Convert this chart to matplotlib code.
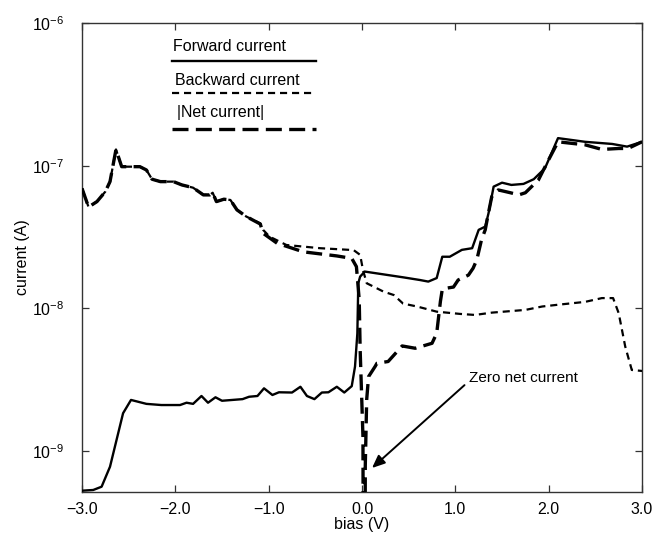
import math
import matplotlib
matplotlib.use("Agg")
import matplotlib.pyplot as plt
from matplotlib.ticker import FixedLocator, FuncFormatter, NullLocator

plt.rcParams['font.family'] = ['Liberation Sans', 'DejaVu Sans']
plt.rcParams['mathtext.fontset'] = 'custom'
plt.rcParams['mathtext.rm'] = 'Liberation Sans'
plt.rcParams['mathtext.it'] = 'Liberation Sans:italic'
plt.rcParams['mathtext.default'] = 'regular'

# ---------------- data ----------------
fwd_v = [-3.00, -2.88, -2.79, -2.70, -2.56, -2.475, -2.31, -2.15, -1.95, -1.88,
         -1.81, -1.72, -1.65, -1.57, -1.50, -1.28, -1.21, -1.12, -1.05, -0.96,
         -0.89, -0.75, -0.66, -0.59, -0.51, -0.43, -0.36, -0.27, -0.19, -0.11,
         -0.075, -0.05, -0.04, -0.02, 0.03, 0.44, 0.62, 0.71, 0.80, 0.86,
         0.94, 1.07, 1.18, 1.25, 1.32, 1.355, 1.41, 1.50, 1.60, 1.73,
         1.84, 1.96, 2.10, 2.39, 2.68, 2.84, 3.00]
fwd_i = [5.27e-10, 5.33e-10, 5.62e-10, 7.76e-10, 1.84e-9, 2.28e-9, 2.14e-9, 2.10e-9, 2.10e-9, 2.18e-9,
         2.14e-9, 2.43e-9, 2.18e-9, 2.38e-9, 2.25e-9, 2.31e-9, 2.40e-9, 2.43e-9, 2.75e-9, 2.47e-9,
         2.58e-9, 2.57e-9, 2.82e-9, 2.43e-9, 2.31e-9, 2.57e-9, 2.58e-9, 2.82e-9, 2.57e-9, 2.85e-9,
         3.91e-9, 6.68e-9, 1.50e-8, 1.67e-8, 1.81e-8, 1.65e-8, 1.58e-8, 1.54e-8, 1.63e-8, 2.30e-8,
         2.30e-8, 2.57e-8, 2.64e-8, 3.55e-8, 3.74e-8, 4.63e-8, 7.13e-8, 7.60e-8, 7.33e-8, 7.45e-8,
         8.04e-8, 9.59e-8, 1.56e-7, 1.47e-7, 1.42e-7, 1.36e-7, 1.47e-7]

bwd_v = [-3.00, -2.93, -2.84, -2.75, -2.70, -2.636, -2.575, -2.38, -2.31, -2.25,
         -2.16, -2.02, -1.93, -1.81, -1.70, -1.63, -1.60, -1.56, -1.48, -1.41,
         -1.34, -1.24, -1.09, -1.06, -0.99, -0.81, -0.45, -0.09, -0.02, 0.01,
         0.05, 0.23, 0.34, 0.44, 0.59, 0.80, 1.05, 1.21, 1.39, 1.75,
         1.93, 2.10, 2.39, 2.57, 2.69, 2.75, 2.82, 2.89, 3.00]
bwd_i = [6.93e-8, 5.13e-8, 5.60e-8, 6.58e-8, 7.73e-8, 1.30e-7, 9.84e-8, 9.84e-8, 9.33e-8, 8.04e-8,
         7.73e-8, 7.73e-8, 7.33e-8, 7.01e-8, 6.24e-8, 6.24e-8, 6.46e-8, 5.60e-8, 5.82e-8, 5.75e-8,
         4.90e-8, 4.40e-8, 3.94e-8, 3.55e-8, 3.18e-8, 2.78e-8, 2.64e-8, 2.56e-8, 2.37e-8, 1.86e-8,
         1.50e-8, 1.31e-8, 1.24e-8, 1.08e-8, 1.03e-8, 9.48e-9, 9.14e-9, 8.99e-9, 9.33e-9, 9.75e-9,
         1.03e-8, 1.06e-8, 1.11e-8, 1.18e-8, 1.18e-8, 9.25e-9, 5.40e-9, 3.70e-9, 3.64e-9]

net_v = [-3.00, -2.93, -2.84, -2.75, -2.70, -2.636, -2.575, -2.38, -2.31, -2.25,
         -2.16, -2.02, -1.93, -1.81, -1.70, -1.63, -1.60, -1.56, -1.48, -1.41,
         -1.34, -1.24, -1.09, -1.06, -0.91, -0.63, -0.27, -0.11, -0.06, -0.03,
         -0.02, 0.01, 0.025, 0.035, 0.05, 0.07, 0.14, 0.16, 0.28, 0.43,
         0.57, 0.75, 0.80, 0.84, 0.86, 0.89, 0.98, 1.03, 1.14, 1.19,
         1.23, 1.28, 1.32, 1.355, 1.39, 1.46, 1.59, 1.68, 1.75, 1.89,
         1.98, 2.10, 2.39, 2.57, 2.75, 2.85, 3.00]
net_i = [6.93e-8, 5.13e-8, 5.60e-8, 6.58e-8, 7.73e-8, 1.30e-7, 9.84e-8, 9.84e-8, 9.33e-8, 8.04e-8,
         7.73e-8, 7.73e-8, 7.33e-8, 7.01e-8, 6.24e-8, 6.24e-8, 6.46e-8, 5.60e-8, 5.82e-8, 5.75e-8,
         4.90e-8, 4.40e-8, 3.90e-8, 3.36e-8, 2.86e-8, 2.49e-8, 2.33e-8, 2.24e-8, 1.96e-8, 1.15e-8,
         5.13e-9, 1.26e-9, 1e-13, 7.9e-10, 2.29e-9, 3.32e-9, 3.91e-9, 4.12e-9, 4.24e-9, 5.45e-9,
         5.25e-9, 5.69e-9, 6.68e-9, 1.12e-8, 1.36e-8, 1.38e-8, 1.41e-8, 1.58e-8, 1.71e-8, 1.91e-8,
         2.19e-8, 3.02e-8, 3.55e-8, 4.68e-8, 6.07e-8, 6.76e-8, 6.46e-8, 6.24e-8, 6.46e-8, 7.94e-8,
         1.04e-7, 1.47e-7, 1.40e-7, 1.30e-7, 1.32e-7, 1.32e-7, 1.47e-7]

labels = ["Forward current", "Backward current", "|Net current|"]
x_ticks = [-3.0, -2.0, -1.0, 0.0, 1.0, 2.0, 3.0]
y_ticks = [1e-9, 1e-8, 1e-7, 1e-6]
annot_text = "Zero net current"

# ---------------- figure ----------------
fig = plt.figure(figsize=(6.55, 5.39), dpi=100)
ax = fig.add_axes([0.1252, 0.0872, 0.8550, 0.8701])

styles = [
    dict(color='black', lw=1.7, ls='-'),
    dict(color='black', lw=1.6, ls=(0, (3.2, 2.2))),
    dict(color='black', lw=2.4, ls=(0, (4.8, 2.2))),
]
ax.plot(fwd_v, fwd_i, **styles[0], zorder=3)
ax.plot(bwd_v, bwd_i, **styles[1], zorder=3)
ax.plot(net_v, net_i, **styles[2], zorder=4)

ax.set_yscale('log')
ax.set_xlim(-3.0, 3.0)
ax.set_ylim(5.16e-10, 1e-6)

ax.xaxis.set_major_locator(FixedLocator(x_ticks))
ax.xaxis.set_major_formatter(FuncFormatter(lambda v, p: f"{v:.1f}".replace('-', '\u2212')))
ax.yaxis.set_major_locator(FixedLocator(y_ticks))
ax.yaxis.set_minor_locator(NullLocator())
ax.yaxis.set_major_formatter(FuncFormatter(
    lambda v, p: r"$\mathregular{10^{%d}}$" % round(math.log10(v))))

ax.tick_params(axis='both', which='major', direction='in', length=5, width=0.9,
               top=True, right=True, labelsize=11.5, color='#333333')
ax.tick_params(axis='x', pad=7)
ax.tick_params(axis='y', pad=13)
for s in ax.spines.values():
    s.set_linewidth(1.0)
    s.set_color('#333333')

ax.set_xlabel("bias (V)", fontsize=11.5, labelpad=0)
ax.set_ylabel("current (A)", fontsize=11.5, labelpad=1)

# legend (text above line)
leg_text_pos = [(0.1625, 0.9495), (0.166, 0.878), (0.170, 0.810)]
leg_line_y = [0.919, 0.851, 0.774]
for lab, (tx, ty), ly, st in zip(labels, leg_text_pos, leg_line_y, styles):
    ax.text(tx, ty, lab, transform=ax.transAxes, fontsize=11.5, ha='left', va='center')
    ax.plot([0.161, 0.418], [ly, ly], transform=ax.transAxes, **st)

ax.annotate(annot_text, xy=(0.107, 7.6e-10), xytext=(1.15, 3.25e-9),
            fontsize=11, ha='left', va='center',
            arrowprops=dict(arrowstyle='-|>,head_length=0.7,head_width=0.3',
                            color='black', lw=1.4, relpos=(0, 0.3), shrinkA=2, shrinkB=0))

fig.savefig("out.png", dpi=100)
